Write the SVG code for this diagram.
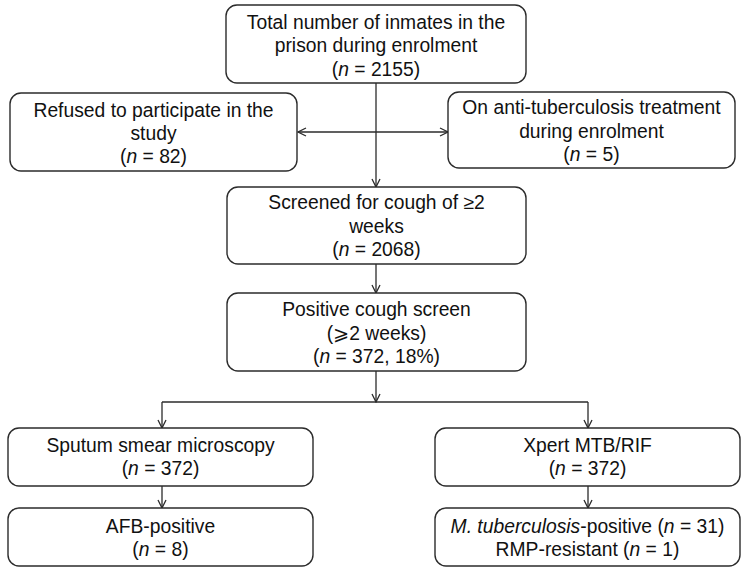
<svg xmlns="http://www.w3.org/2000/svg" width="749" height="575" viewBox="0 0 749 575">
<defs>
<style>
.box{fill:#ffffff;stroke:#2b2b2b;stroke-width:1.4}
.t{font-family:"Liberation Sans",Arial,"DejaVu Sans",sans-serif;font-size:19.3px;fill:#111111;text-anchor:middle}
.c{fill:none;stroke:#2b2b2b;stroke-width:1.3}
</style>
<marker id="ah" markerWidth="10" markerHeight="10" refX="9" refY="5" orient="auto-start-reverse" markerUnits="userSpaceOnUse">
<path d="M1,1 L9,5 L1,9" fill="none" stroke="#2b2b2b" stroke-width="1.3"/>
</marker>
</defs>
<rect width="749" height="575" fill="#ffffff"/>
<g id="connectors">
<line class="c" x1="376" y1="83" x2="376" y2="187" marker-end="url(#ah)"/>
<line class="c" x1="298" y1="132" x2="448" y2="132" marker-start="url(#ah)" marker-end="url(#ah)"/>
<line class="c" x1="376" y1="264" x2="376" y2="293" marker-end="url(#ah)"/>
<line class="c" x1="376" y1="371" x2="376" y2="402" marker-end="url(#ah)"/>
<line class="c" x1="162" y1="402" x2="588" y2="402"/>
<line class="c" x1="162" y1="402" x2="162" y2="428" marker-end="url(#ah)"/>
<line class="c" x1="588" y1="402" x2="588" y2="428" marker-end="url(#ah)"/>
<line class="c" x1="162" y1="486" x2="162" y2="508" marker-end="url(#ah)"/>
<line class="c" x1="588" y1="486" x2="588" y2="508" marker-end="url(#ah)"/>
</g>
<g id="total">
<rect class="box" x="226" y="5" width="300" height="78" rx="11"/>
<text class="t" x="376" y="28.5">Total number of inmates in the</text>
<text class="t" x="376" y="52">prison during enrolment</text>
<text class="t" x="376" y="75.5">(<tspan font-style="italic">n</tspan> = 2155)</text>
</g>
<g id="refused">
<rect class="box" x="10" y="93" width="287" height="78" rx="11"/>
<text class="t" x="153.5" y="117">Refused to participate in the</text>
<text class="t" x="153.5" y="140">study</text>
<text class="t" x="153.5" y="163">(<tspan font-style="italic">n</tspan> = 82)</text>
</g>
<g id="treatment">
<rect class="box" x="448" y="92" width="287" height="76" rx="11"/>
<text class="t" x="591.5" y="114">On anti-tuberculosis treatment</text>
<text class="t" x="591.5" y="137.5">during enrolment</text>
<text class="t" x="591.5" y="161">(<tspan font-style="italic">n</tspan> = 5)</text>
</g>
<g id="screened">
<rect class="box" x="227" y="187" width="299" height="77" rx="11"/>
<text class="t" x="376.5" y="209">Screened for cough of ≥2</text>
<text class="t" x="376.5" y="232.5">weeks</text>
<text class="t" x="376.5" y="256">(<tspan font-style="italic">n</tspan> = 2068)</text>
</g>
<g id="positive">
<rect class="box" x="227" y="293" width="299" height="78" rx="11"/>
<text class="t" x="376.5" y="316">Positive cough screen</text>
<text class="t" x="376.5" y="339.5">(⩾2 weeks)</text>
<text class="t" x="376.5" y="363">(<tspan font-style="italic">n</tspan> = 372, 18%)</text>
</g>
<g id="sputum">
<rect class="box" x="8" y="428" width="305" height="58" rx="11"/>
<text class="t" x="160.5" y="452">Sputum smear microscopy</text>
<text class="t" x="160.5" y="475">(<tspan font-style="italic">n</tspan> = 372)</text>
</g>
<g id="xpert">
<rect class="box" x="435" y="428" width="305" height="58" rx="11"/>
<text class="t" x="587.5" y="452">Xpert MTB/RIF</text>
<text class="t" x="587.5" y="475">(<tspan font-style="italic">n</tspan> = 372)</text>
</g>
<g id="afb">
<rect class="box" x="8" y="508" width="305" height="58" rx="11"/>
<text class="t" x="160.5" y="533">AFB-positive</text>
<text class="t" x="160.5" y="556">(<tspan font-style="italic">n</tspan> = 8)</text>
</g>
<g id="mtb">
<rect class="box" x="435" y="508" width="305" height="58" rx="11"/>
<text class="t" x="587.5" y="533"><tspan font-style="italic">M. tuberculosis</tspan>-positive (<tspan font-style="italic">n</tspan> = 31)</text>
<text class="t" x="587.5" y="556">RMP-resistant (<tspan font-style="italic">n</tspan> = 1)</text>
</g>
</svg>
